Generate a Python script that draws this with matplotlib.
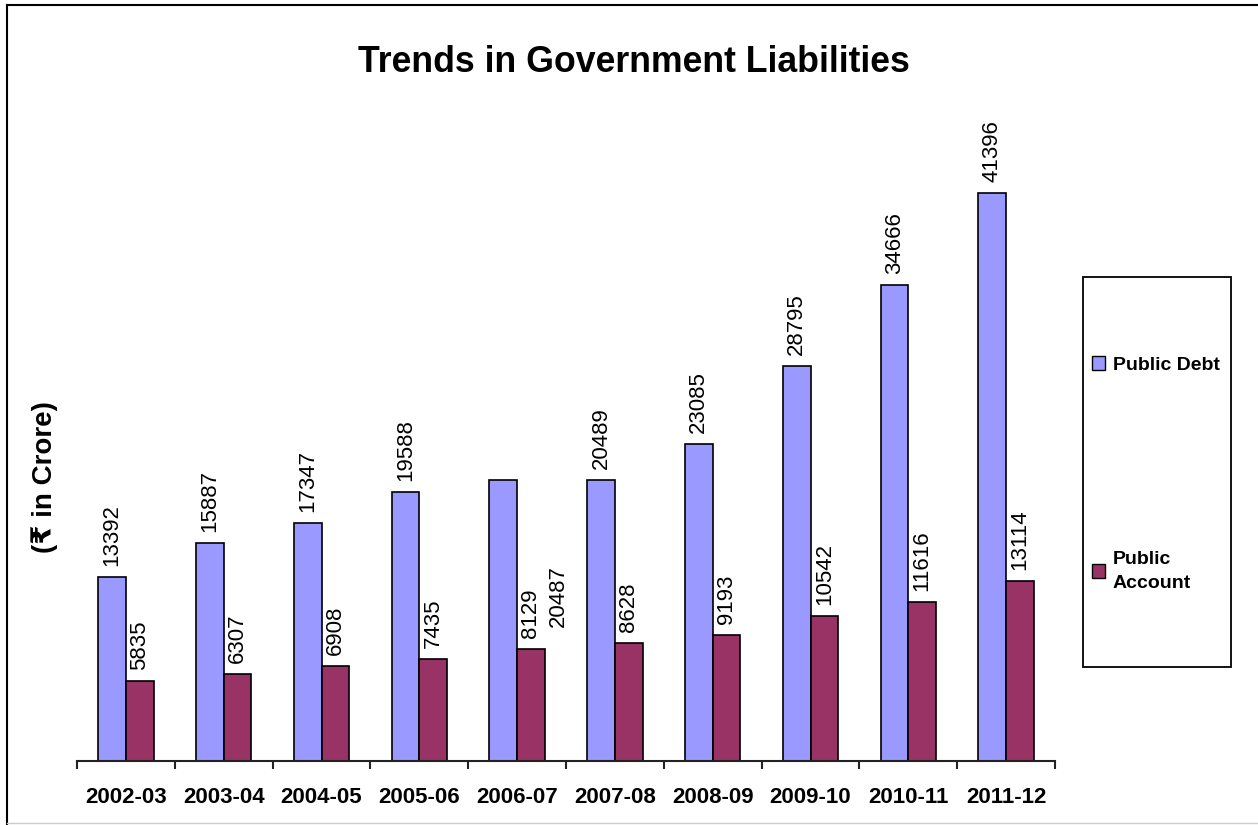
import matplotlib
matplotlib.use("Agg")
import matplotlib.pyplot as plt
from matplotlib.lines import Line2D
from matplotlib.patches import Patch, Rectangle

plt.rcParams['font.family'] = ['Liberation Sans', 'DejaVu Sans']

years = ['2002-03', '2003-04', '2004-05', '2005-06', '2006-07',
         '2007-08', '2008-09', '2009-10', '2010-11', '2011-12']
public_debt = [13392, 15887, 17347, 19588, 20487, 20489, 23085, 28795, 34666, 41396]
public_account = [5835, 6307, 6908, 7435, 8129, 8628, 9193, 10542, 11616, 13114]

DEBT_COLOR = '#9999FF'
ACCOUNT_COLOR = '#993366'

W, H = 1258, 825
fig = plt.figure(figsize=(W / 100, H / 100), dpi=100)

def px(x, y):
    # pixel position (from top-left) -> figure fraction
    return x / W, 1 - y / H

ax = fig.add_axes([77 / W, 1 - 761 / H, 978 / W, 661 / H])

x = list(range(len(years)))
bw = 0.283
debt_bars = ax.bar([i - bw / 2 for i in x], public_debt, bw, color=DEBT_COLOR,
                   edgecolor='black', linewidth=1.2, label='Public Debt')
acc_bars = ax.bar([i + bw / 2 for i in x], public_account, bw, color=ACCOUNT_COLOR,
                  edgecolor='black', linewidth=1.2, label='Public\nAccount')

ax.set_xlim(-0.5, len(years) - 0.5)
ax.set_ylim(0, 48174)

# value labels, the 2006-07 debt label sits off to the right of its group
debt_labels = [str(v) for v in public_debt]
debt_labels[4] = ''
ax.bar_label(debt_bars, labels=debt_labels, rotation=90, padding=8, fontsize=16)
ax.bar_label(acc_bars, labels=[str(v) for v in public_account], rotation=90,
             padding=8, fontsize=16)
ax.annotate(str(public_debt[4]), xy=(4 + bw / 2, public_account[4]),
            xytext=(20, 16), textcoords='offset points', rotation=90,
            ha='center', va='bottom', fontsize=16)

# axis: only the baseline with ticks between categories
for side in ['top', 'right', 'left']:
    ax.spines[side].set_visible(False)
ax.spines['bottom'].set_linewidth(1.5)
ax.spines['bottom'].set_color('#222222')
ax.set_yticks([])
ax.set_xticks([i - 0.5 for i in range(len(years) + 1)])
ax.set_xticklabels([])
ax.tick_params(axis='x', which='major', length=6, width=1.5, color='#222222', direction='out')
ax.set_xticks(x, minor=True)
ax.set_xticklabels(years, minor=True, fontsize=16, fontweight='bold')
ax.tick_params(axis='x', which='minor', length=0, pad=19)

fig.text(*px(634, 62), 'Trends in Government Liabilities', ha='center', va='center',
         fontsize=25.7, fontweight='bold')
fig.text(*px(45, 477), '(₹ in Crore)', ha='center', va='center', rotation=90,
         fontsize=20, fontweight='bold')

# legend box
lx, ly = px(1083, 667)
fig.add_artist(Rectangle((lx, ly), 148 / W, 390 / H, transform=fig.transFigure,
                         facecolor='white', edgecolor='black', linewidth=1.3))
handles = [Patch(facecolor=DEBT_COLOR, edgecolor='black', linewidth=1),
           Patch(facecolor=ACCOUNT_COLOR, edgecolor='black', linewidth=1)]
leg = fig.legend(handles, ['Public Debt', 'Public\nAccount'], loc='center left',
                 bbox_to_anchor=px(1074, 474), frameon=False,
                 prop={'size': 14, 'weight': 'bold'}, handlelength=0.7, handleheight=0.7,
                 handletextpad=0.4, labelspacing=9.1)
for t in leg.get_texts():
    t.set_linespacing(1.5)

# outer frame
fig.add_artist(Line2D([7 / W, 7 / W], [0, 1 - 5 / H], transform=fig.transFigure,
                      color='black', linewidth=1.5))
fig.add_artist(Line2D([7 / W, 1], [1 - 5 / H, 1 - 5 / H], transform=fig.transFigure,
                      color='black', linewidth=1.5))
fig.add_artist(Line2D([7 / W, 1], [1 - 823 / H, 1 - 823 / H], transform=fig.transFigure,
                      color='#cccccc', linewidth=1))

fig.savefig('out.png', dpi=100)
